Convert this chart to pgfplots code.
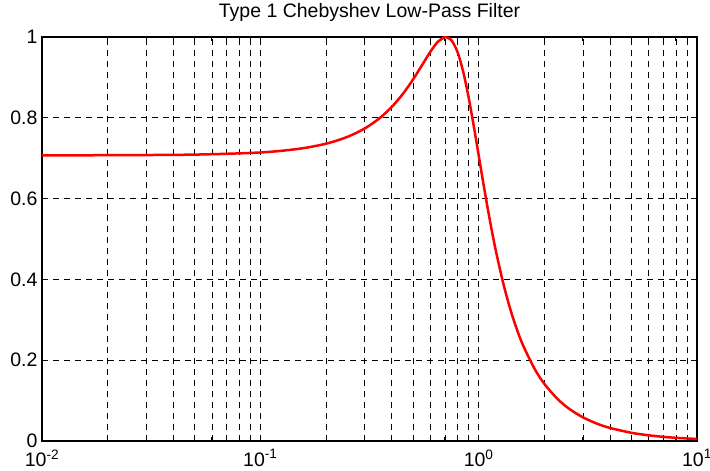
\documentclass[border=0pt]{standalone}
\usepackage{fontspec}
\setmainfont{Liberation Sans}
\usepackage{pgfplots}
\pgfplotsset{compat=1.18}

\pgfplotstableread{
w      mag
0.01   0.7072
0.02   0.7074
0.05   0.7089
0.1    0.7142
0.15   0.7232
0.2    0.7359
0.25   0.7526
0.3    0.7733
0.35   0.7981
0.4    0.8269
0.45   0.8594
0.5    0.8944
0.55   0.9301
0.6    0.9629
0.65   0.9882
0.7    0.9998
0.707  1.0000
0.75   0.9923
0.8    0.9629
0.85   0.9136
0.9    0.8499
0.95   0.7790
1.0    0.7071
1.05   0.6386
1.1    0.5758
1.15   0.5195
1.2    0.4696
1.3    0.3874
1.4    0.3240
1.5    0.2747
1.6    0.2359
1.8    0.1795
2.0    0.1414
2.3    0.1038
2.6    0.0796
3.0    0.0587
3.5    0.0425
4.0    0.0322
5.0    0.0204
6.0    0.0141
7.0    0.0103
8.0    0.0079
10.0   0.0050
}\cheby

\begin{document}
\begin{tikzpicture}
\begin{axis}[
  at={(0pt,0pt)}, anchor=south west,
  scale only axis, width=655pt, height=404pt,
  xmode=log, xmin=0.01, xmax=10, ymin=0, ymax=1,
  xtick={0.01,0.1,1,10},
  xticklabels={10\textsuperscript{-2},10\textsuperscript{-1},10\textsuperscript{0},10\textsuperscript{1}},
  ytick={0,0.2,0.4,0.6,0.8,1},
  yticklabels={0,0.2,0.4,0.6,0.8,1},
  grid=both,
  major grid style={black, line width=0.6pt, dash pattern=on 6pt off 5pt},
  minor grid style={black, line width=0.6pt, dash pattern=on 6pt off 5pt},
  tick align=inside, xtick pos=both, ytick pos=both,
  major tick length=6pt, minor tick length=4pt,
  every tick/.style={black, line width=0.8pt},
  axis line style={black, line width=1.2pt},
  tick label style={font=\fontsize{19.5}{19.5}\selectfont},
  xticklabel style={yshift=-5pt},
  yticklabel style={xshift=-1pt},
  title={Type 1 Chebyshev Low-Pass Filter},
  title style={font=\fontsize{19.5}{19.5}\selectfont, at={(0.5,1)}, anchor=base, yshift=13pt},
]
\addplot[red, line width=2.5pt, smooth] table[x=w, y=mag] {\cheby};
\end{axis}
\pgfresetboundingbox
\path[use as bounding box] (-42pt,-30pt) rectangle (668pt,441pt);
\end{tikzpicture}
\end{document}
